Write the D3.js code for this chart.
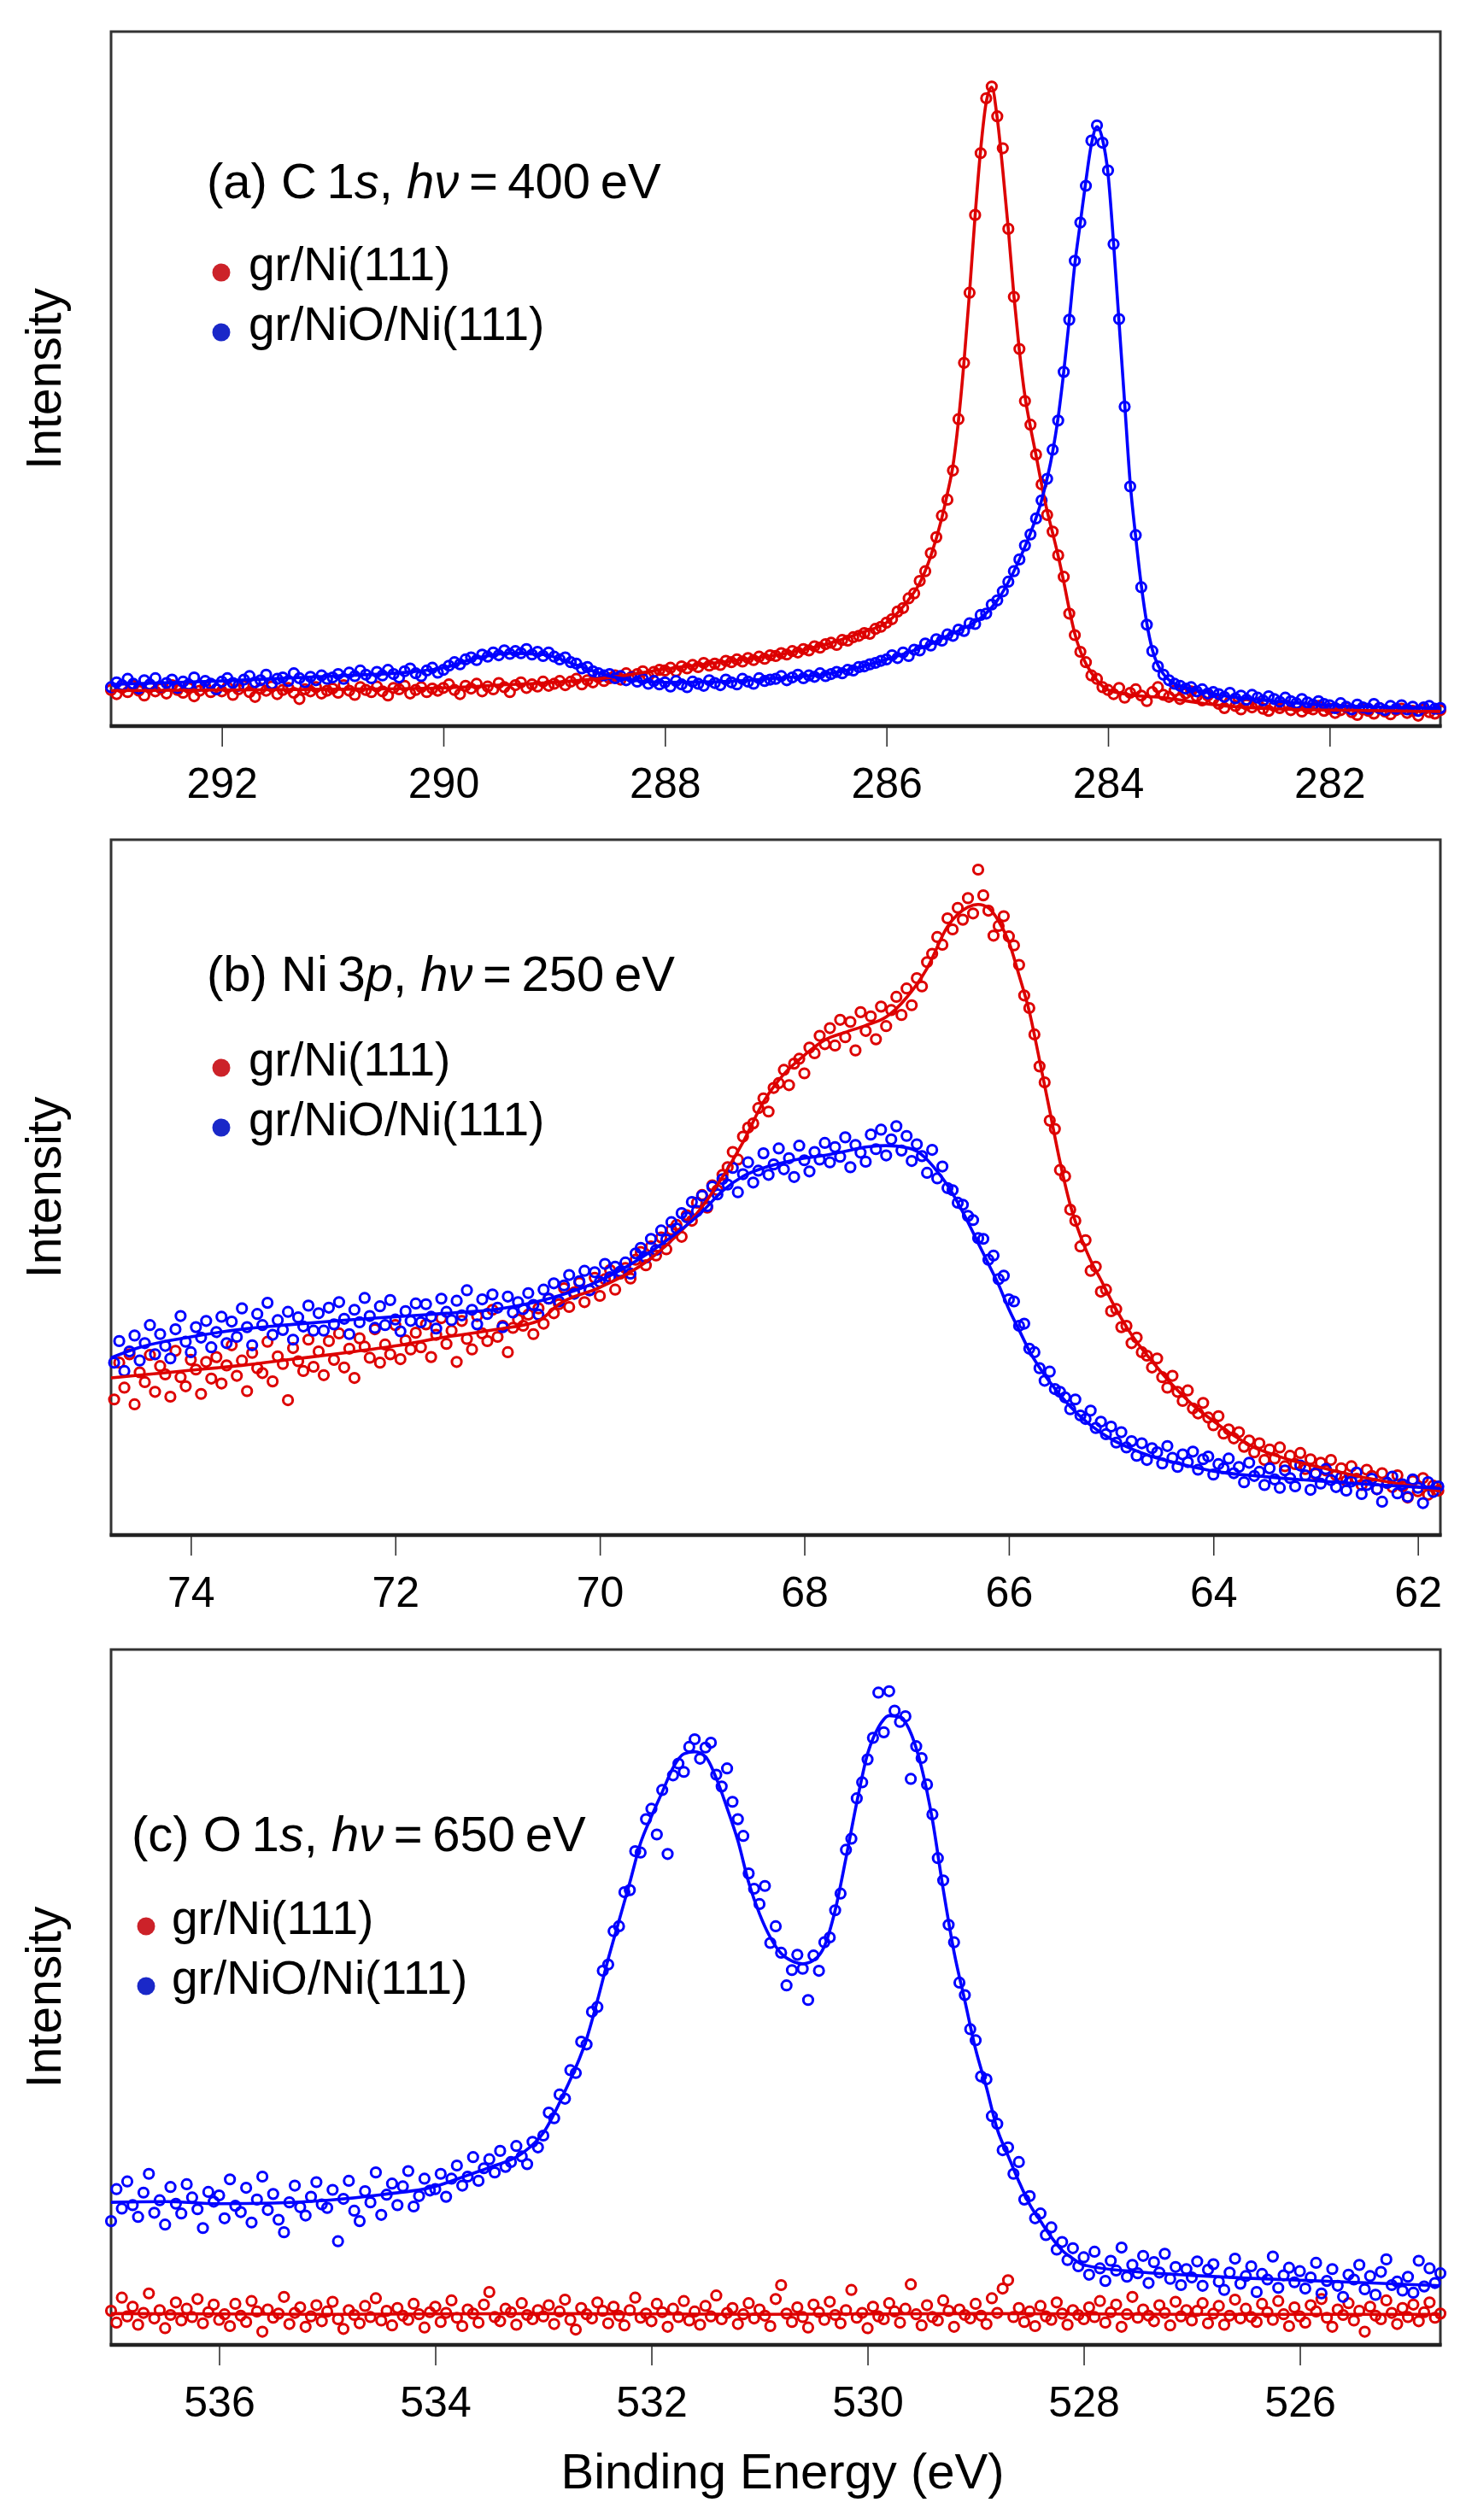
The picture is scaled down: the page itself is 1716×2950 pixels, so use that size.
<!DOCTYPE html>
<html><head><meta charset="utf-8">
<script src="https://cdn.jsdelivr.net/npm/d3@7"></script>
<style>body{margin:0;background:#fff}svg{display:block}</style>
</head><body>
<svg id="chart" width="1716" height="2950"></svg>
<script>
// ---------- Panel (a) C 1s : energy grid start / step (eV), intensities (arb. units 0-100) ----------
const aStart = 293.0, aStep = 0.05;
const aRed = [
5.2,4.6,5.5,4.9,5.8,5.1,4.4,5.6,5.0,5.4,4.7,5.9,5.2,4.8,5.5,4.3,5.1,5.7,4.9,5.3,
5.0,5.6,4.5,5.3,5.8,4.9,4.2,5.4,5.1,5.7,4.6,5.2,5.5,4.8,3.9,5.3,5.0,5.6,4.7,5.1,
5.4,4.8,5.9,5.1,4.5,5.6,5.2,4.9,5.7,5.0,4.4,5.5,5.3,5.8,4.7,5.2,5.6,4.9,5.4,5.1,
5.5,6.0,5.2,4.6,5.8,5.4,6.1,5.0,5.7,5.3,6.2,5.6,4.9,5.9,6.3,5.5,6.0,5.7,6.4,5.8,
6.1,6.5,5.9,6.4,6.8,6.0,6.6,6.3,7.0,6.5,6.9,7.3,6.7,7.6,7.1,7.5,7.9,7.2,7.8,8.1,
8.0,8.4,7.9,8.6,8.3,8.8,8.5,9.1,8.7,9.0,8.8,9.4,9.2,9.6,9.3,9.8,9.5,10.0,9.7,10.2,
10.1,10.5,10.3,10.8,10.6,11.1,10.9,11.5,11.3,11.8,12.0,11.7,12.4,12.3,12.8,13.0,13.4,13.3,14.0,14.3,
14.9,15.4,16.5,17.0,18.4,19.1,20.9,22.3,24.9,27.2,30.3,32.6,36.8,44.2,52.3,62.4,73.6,82.5,90.4,92.1,
87.8,83.2,71.6,61.8,54.3,46.8,43.4,39.1,34.8,30.4,28.0,24.6,21.5,16.2,13.1,10.7,9.2,7.3,6.8,5.6,
5.2,4.6,5.5,4.1,4.8,5.3,4.4,3.6,4.9,5.6,4.5,4.2,5.1,3.9,4.7,5.0,4.3,3.7,4.4,3.9,
3.2,2.6,3.5,2.9,2.4,3.1,2.7,3.3,2.5,2.2,2.9,2.6,3.0,2.3,2.8,2.1,2.6,2.4,2.9,2.2,
2.5,1.9,2.3,2.7,2.0,1.6,2.4,2.2,1.8,2.6,2.1,1.7,2.3,2.5,1.9,2.2,1.5,2.4,2.0,1.8,2.3];
const aBlue = [
5.6,6.3,5.9,6.8,6.1,5.4,6.6,6.0,6.9,5.7,6.2,6.7,5.5,6.4,6.0,7.0,5.8,6.5,6.1,5.3,
6.4,6.9,6.2,5.8,6.7,7.2,6.3,6.6,7.4,6.1,6.8,7.0,6.5,7.6,6.9,6.3,7.1,6.6,7.3,6.8,
7.0,7.5,6.8,7.7,7.2,8.0,7.4,6.9,7.8,7.3,8.1,7.5,7.0,7.9,8.3,7.6,7.2,8.0,8.4,7.7,
8.1,8.7,9.2,8.9,9.6,9.9,9.5,10.3,10.0,10.6,10.2,10.9,10.4,10.8,10.5,11.1,10.3,10.7,10.1,10.6,
10.0,9.6,9.9,9.2,9.0,8.3,8.5,7.9,7.6,7.3,7.5,6.9,7.2,6.6,7.0,6.4,6.8,6.1,6.5,6.0,
6.3,5.7,6.5,6.0,5.6,6.4,6.1,5.8,6.6,6.2,5.9,6.7,6.3,6.0,6.8,6.4,6.1,6.9,6.5,6.7,
6.8,7.2,6.6,7.0,7.4,6.9,7.3,7.1,7.6,7.2,7.5,7.8,7.6,8.1,8.0,8.5,8.6,8.9,9.1,9.4,
9.6,10.2,9.8,10.6,10.1,11.0,10.9,11.9,11.6,12.5,12.3,13.2,13.0,13.9,13.7,14.8,14.7,16.0,16.2,17.5,
18.1,19.4,20.8,22.3,24.0,26.0,27.6,29.9,32.5,35.6,39.8,44.0,51.0,58.5,67.0,72.5,77.8,84.3,86.5,84.0,
80.0,69.4,58.6,46.0,34.5,27.5,20.0,14.6,10.8,8.6,7.4,6.6,6.1,5.8,5.4,5.6,5.0,5.3,4.7,4.9,
4.6,4.2,4.8,4.0,4.4,3.8,4.5,4.1,3.7,4.3,3.9,3.5,4.1,3.6,3.3,3.9,3.4,3.1,3.6,3.2,
3.0,2.6,3.3,2.8,2.4,3.1,2.7,2.5,3.2,2.6,2.3,2.9,2.5,3.0,2.4,2.8,2.2,2.7,2.9,2.5,2.6];
const aRedFit = [[293,5.1],[292,5.2],[291,5.3],[290,5.5],[289.5,5.9],[289,6.3],[288.5,7.0],[288,8.2],[287.5,9.2],[287,10.2],[286.5,12.0],[286.2,13.6],[286,14.9],[285.8,18.2],[285.7,20.6],[285.6,24.5],[285.5,30.0],[285.45,33.5],[285.4,37.5],[285.35,44],[285.3,52.5],[285.25,62.5],[285.2,73.5],[285.15,83],[285.1,89.8],[285.05,92],[285.0,87.5],[284.95,80],[284.9,71.5],[284.85,62],[284.8,54],[284.75,47.5],[284.7,43],[284.65,39],[284.6,34.8],[284.55,31],[284.5,27.8],[284.45,24.5],[284.4,20.8],[284.35,16.8],[284.3,13.3],[284.25,10.8],[284.2,9],[284.1,6.6],[284,5.2],[283.8,4.5],[283.5,4.1],[283.2,3.4],[283,3.0],[282.5,2.5],[282,2.3],[281,2.1]];
const aBlueFit = [[293,6.0],[292,6.5],[291,7.2],[290.3,7.8],[290,8.4],[289.7,9.8],[289.4,10.5],[289.1,10.3],[288.8,8.8],[288.5,7.2],[288,6.3],[287.5,6.4],[287,6.9],[286.5,7.6],[286,9.6],[285.5,12.6],[285,18.1],[284.8,24],[284.7,27.8],[284.6,32.5],[284.5,39.5],[284.45,44.5],[284.4,51],[284.35,58.5],[284.3,66.5],[284.25,72.5],[284.2,78.5],[284.15,83.8],[284.1,86.3],[284.05,84.5],[284.0,79.5],[283.95,69.5],[283.9,58],[283.85,46.5],[283.8,35],[283.75,27.2],[283.7,20.3],[283.65,14.8],[283.6,11],[283.55,8.8],[283.5,7.5],[283.4,6.1],[283.2,5.2],[283,4.5],[282.5,3.6],[282,3.0],[281,2.6]];
const aTicks = [292, 290, 288, 286, 284, 282];

// ---------- Panel (b) Ni 3p ----------
const bStart = 74.75, bStep = 0.05;
const bRed = [
19.5,24.8,21.2,26.0,18.8,23.4,22.0,25.9,20.6,24.3,23.1,19.9,26.5,22.7,21.4,25.2,23.8,20.3,24.9,22.5,
25.6,21.8,24.4,27.3,22.9,25.1,20.7,26.2,24.0,23.3,27.8,22.1,25.7,24.6,19.4,26.9,25.0,23.6,28.1,24.2,
26.4,23.0,27.9,25.2,29.0,24.1,26.8,22.6,28.3,27.1,25.5,29.6,24.8,27.4,26.0,30.2,25.3,28.0,26.7,29.1,
27.0,30.3,25.6,28.8,31.2,27.5,29.4,24.9,30.8,28.2,26.7,31.5,29.0,27.9,32.4,28.5,30.1,26.3,29.8,31.0,
30.1,31.7,28.9,32.6,30.4,34.0,31.9,33.2,35.5,32.8,34.9,36.3,33.5,35.2,37.0,34.4,36.8,38.1,35.3,37.6,
38.4,36.9,39.6,40.7,38.8,41.5,40.2,42.8,41.1,43.9,44.6,42.9,46.0,45.2,47.8,48.9,47.1,50.3,49.6,51.8,
52.9,55.1,54.0,57.3,58.6,59.2,61.4,62.8,60.9,64.3,65.0,66.9,64.7,67.8,68.5,66.4,70.1,69.3,71.8,70.6,
72.9,70.4,74.1,71.6,73.8,69.7,75.2,72.5,74.6,71.3,76.0,73.2,75.5,77.4,74.8,78.6,76.2,80.1,78.9,82.4,
83.6,86.0,84.9,88.7,87.1,90.2,88.5,91.6,89.4,95.7,92.0,89.8,86.2,87.6,89.0,86.1,84.8,82.0,77.6,75.8,
72.0,67.4,65.1,59.6,58.4,52.5,51.6,46.8,45.2,41.5,42.4,38.0,38.6,35.0,35.3,32.2,32.5,29.9,30.1,27.6,
28.4,26.3,25.8,24.1,25.4,22.7,21.2,22.9,20.6,19.3,20.8,18.2,17.5,19.0,16.9,15.8,17.1,14.6,15.2,13.9,
14.8,12.7,13.6,11.9,13.2,10.8,12.3,11.0,12.6,9.9,11.4,10.2,11.8,9.5,10.9,8.8,10.4,9.3,10.8,8.6,
9.6,7.8,9.9,8.1,7.2,9.4,8.5,6.6,8.9,7.5,6.9,8.6,7.0,5.4,7.8,6.3,8.2,5.8,7.1,6.4];
const bBlue = [
24.8,27.9,23.6,26.4,28.7,25.1,27.6,30.2,26.0,28.9,27.2,25.4,29.6,31.5,27.8,26.3,29.9,28.4,30.8,27.0,
29.2,31.4,27.6,30.7,28.5,32.6,29.9,27.3,31.8,30.2,33.4,28.8,30.9,29.5,32.1,28.1,31.3,30.0,33.0,29.4,
31.9,29.4,32.7,30.3,33.5,31.1,28.9,32.4,30.6,34.1,31.5,29.8,32.9,30.2,33.8,31.0,29.3,32.2,30.8,33.3,
30.6,33.2,31.4,29.7,34.0,32.1,30.9,33.7,31.6,35.2,32.4,30.3,33.9,31.8,34.6,32.7,29.9,34.3,32.0,33.5,
32.5,34.8,33.1,31.7,35.3,34.0,36.2,33.6,35.9,37.4,34.7,36.5,38.0,35.2,37.8,36.4,39.0,37.1,38.6,37.9,
39.2,37.6,40.5,41.3,39.9,42.6,41.0,43.8,42.5,45.0,44.1,46.3,45.7,47.9,46.6,48.8,47.3,50.1,49.0,51.2,
50.4,52.8,49.3,51.9,53.6,50.7,52.4,54.9,51.8,53.3,55.6,52.6,54.2,51.5,56.0,53.9,52.3,55.1,54.0,56.4,
53.6,55.8,54.4,57.2,52.9,56.1,55.0,53.7,57.6,55.5,58.3,54.6,56.9,58.8,55.3,57.4,53.8,56.2,54.5,52.1,
55.4,51.3,53.0,49.9,49.6,47.8,47.5,45.9,45.3,42.7,42.6,39.6,40.2,36.8,37.3,33.9,33.6,30.1,30.4,26.8,
26.3,24.0,22.2,23.5,21.0,20.6,19.8,18.1,19.5,17.2,16.7,17.9,15.4,16.3,14.5,15.6,13.3,14.8,12.6,13.5,
11.4,13.2,10.8,12.5,11.9,10.3,12.8,11.1,9.8,11.6,10.5,12.0,9.4,10.9,11.3,8.7,10.2,9.6,11.0,8.9,
9.8,7.6,10.4,8.5,9.1,7.2,9.6,8.0,6.8,9.3,8.2,7.0,10.0,8.6,6.5,8.9,7.4,9.5,7.9,6.9,
8.3,6.4,7.7,9.0,5.9,7.2,8.1,6.6,4.8,7.5,8.4,6.0,7.3,5.5,8.0,6.8,4.6,7.6,6.2,7.0];
const bRedFit = [[74.78,22.6],[74.5,23.0],[74,23.7],[73.5,24.4],[73,25.3],[72.5,26.2],[72,27.2],[71.5,28.5],[71,29.6],[70.6,30.8],[70.4,33.2],[70,35.6],[69.5,39.8],[69,47.2],[68.8,51.5],[68.6,56.5],[68.4,62.3],[68.2,66.3],[68,69],[67.8,71.2],[67.6,72.3],[67.4,73.3],[67.2,74.5],[67,77.3],[66.8,81.5],[66.6,87.5],[66.4,90.3],[66.3,90.7],[66.2,90.2],[66.1,88.3],[66,85.3],[65.9,80.5],[65.8,75.3],[65.7,68.3],[65.6,61],[65.5,53.7],[65.4,47.5],[65.3,43],[65.2,39.5],[65.1,36.7],[65,33.8],[64.8,28.8],[64.6,25],[64.4,21.6],[64.2,18.7],[64,16.4],[63.8,14.3],[63.6,12.6],[63.4,11.5],[63.2,10.6],[63,9.9],[62.5,8.2],[62,6.9],[61.78,6.3]];
const bBlueFit = [[74.78,25.5],[74.5,27],[74,28.5],[73.5,29.6],[73,30.3],[72.5,30.9],[72,31.4],[71.5,31.9],[71,32.5],[70.5,34],[70,36.6],[69.5,40.8],[69,46.5],[68.8,49.5],[68.6,51.6],[68.4,52.8],[68.2,53.6],[68,54.2],[67.8,54.6],[67.6,55.2],[67.4,55.8],[67.2,56],[67,55.7],[66.9,55.2],[66.8,54],[66.7,52.3],[66.6,50.3],[66.5,47.8],[66.4,45],[66.3,42],[66.2,39],[66.1,36],[66,32.5],[65.9,29.5],[65.8,26.5],[65.6,22],[65.4,18.5],[65.2,15.8],[65,13.8],[64.8,12.4],[64.6,11.3],[64.4,10.5],[64.2,9.8],[64,9.2],[63.5,8.4],[63,7.8],[62.5,7.3],[62,6.9],[61.78,6.7]];
const bTicks = [74, 72, 70, 68, 66, 64, 62];

// ---------- Panel (c) O 1s ----------
const cStart = 537.0, cStep = 0.05;
const cRed = [
4.9,3.2,6.8,4.1,5.5,2.9,4.6,7.4,3.8,5.0,2.4,4.3,6.1,3.5,5.2,4.0,6.6,3.1,4.7,5.8,
3.6,4.4,2.7,5.9,4.2,3.3,6.3,4.8,1.9,5.1,3.9,4.5,6.9,3.0,4.6,5.4,2.6,4.1,5.7,3.4,
4.8,6.2,3.7,2.3,5.0,4.3,3.1,5.6,4.0,6.7,3.5,4.9,2.8,5.3,4.2,3.6,5.9,4.4,2.5,4.7,
5.5,3.3,4.6,6.4,3.9,2.7,5.1,4.5,3.2,5.8,7.6,4.0,3.4,5.2,4.7,2.9,6.0,4.3,3.7,5.0,
4.1,5.7,3.0,4.8,6.5,3.6,2.2,5.3,4.4,3.8,6.1,4.9,3.1,5.5,4.2,2.8,5.0,6.8,3.9,4.5,
3.4,5.9,4.7,2.6,5.2,4.0,6.3,3.5,4.8,2.9,5.6,4.1,7.1,3.7,4.6,5.3,3.0,4.4,6.0,3.8,
5.1,4.2,2.7,6.6,8.6,4.5,3.3,5.4,4.0,2.5,5.8,4.7,3.6,6.2,4.3,3.1,5.0,7.9,3.9,4.6,
2.4,5.5,4.1,3.7,6.0,4.8,3.2,5.2,8.7,4.4,2.8,5.7,4.0,3.5,6.4,4.9,2.6,5.1,4.3,3.8,
5.9,4.2,3.0,6.7,4.6,8.1,9.3,4.0,5.3,3.3,4.8,2.7,5.6,4.1,3.6,6.1,4.5,2.9,5.0,4.3,
3.7,5.4,4.0,6.3,3.2,4.7,5.8,2.6,4.4,6.9,3.9,5.1,4.2,3.4,5.7,4.6,2.8,6.2,4.1,5.0,
3.5,4.9,6.0,3.1,4.5,5.6,2.9,4.2,6.5,3.8,5.2,4.0,3.3,5.9,4.7,3.6,6.3,4.4,2.7,5.4,
4.1,3.2,5.7,4.8,6.6,3.9,2.6,5.1,4.3,6.0,3.5,4.9,1.9,5.5,4.2,3.7,6.4,4.6,3.0,5.3,
4.0,5.8,3.4,4.7,6.1,3.9,4.5];
const cBlue = [
17.8,22.4,19.6,23.5,20.1,18.4,21.9,24.6,19.0,20.8,17.3,22.7,20.3,18.9,23.1,21.2,19.5,16.8,22.0,20.6,
21.5,18.2,23.8,20.0,19.1,22.6,17.6,20.9,24.2,19.4,21.7,18.0,16.2,20.5,22.9,19.8,18.6,21.3,23.4,20.2,
19.7,22.3,14.9,21.0,23.6,19.3,17.8,22.1,20.5,24.8,18.7,21.6,23.2,20.1,22.8,25.0,19.9,21.4,23.9,22.2,
22.4,24.6,21.3,23.9,25.8,22.9,24.2,27.0,23.6,25.4,26.7,24.8,27.9,25.6,26.3,28.6,27.1,26.0,29.2,28.4,
30.1,33.4,32.6,36.0,35.4,39.5,39.1,43.6,43.2,47.9,48.6,53.8,54.7,59.5,60.2,65.1,65.4,71.0,70.8,75.6,
77.1,73.4,79.8,70.6,81.9,83.6,82.4,86.0,87.1,84.3,85.9,86.6,82.0,80.3,82.9,78.1,75.6,73.2,67.8,65.6,
63.4,66.0,57.8,60.2,56.4,51.7,53.9,56.1,54.1,49.6,56.0,53.8,57.9,58.6,62.5,64.9,71.2,72.8,78.6,80.9,
84.2,87.3,93.8,88.1,94.0,91.2,89.6,90.4,81.4,86.1,84.4,80.6,76.3,70.0,66.8,60.4,57.9,52.1,50.3,45.4,
43.8,38.6,38.2,32.9,31.8,28.0,28.4,24.6,26.3,20.9,21.4,18.2,18.9,15.8,16.9,13.7,14.8,12.2,13.9,11.3,
12.6,10.1,13.4,11.0,9.2,12.1,10.7,14.0,9.8,11.5,10.3,12.8,8.9,11.9,10.4,13.1,9.5,11.2,8.6,10.9,
9.7,12.0,8.5,10.8,11.6,9.1,7.9,10.4,12.4,8.8,9.9,11.3,7.6,10.2,9.4,12.7,8.2,10.0,11.1,9.0,
10.6,8.1,9.7,11.8,7.4,9.2,10.9,8.5,6.9,10.1,9.4,11.5,8.0,9.9,7.2,10.5,12.3,8.6,9.1,7.8,
9.8,7.5,12.1,8.4,11.0,8.9,10.3];
const cRedFit = [[537,4.5],[535,4.4],[533,4.5],[531,4.4],[529,4.5],[527,4.4],[524.7,4.4]];
const cBlueFit = [[537,20.5],[536.5,20.6],[536,20.3],[535.5,20.4],[535,20.8],[534.5,21.6],[534,22.8],[533.7,24.4],[533.5,25.5],[533.2,27.5],[533,30.5],[532.8,36.5],[532.6,44],[532.5,49.5],[532.4,55.5],[532.3,61],[532.2,66.5],[532.1,72.2],[532,76],[531.9,79.5],[531.8,83],[531.7,85],[531.6,85.3],[531.5,84.6],[531.4,81.5],[531.3,77.2],[531.2,72.5],[531.1,66.5],[531,62],[530.9,58.6],[530.8,56.3],[530.7,55.2],[530.6,54.8],[530.5,55.3],[530.4,57.3],[530.3,62.5],[530.2,70],[530.1,78],[530,85],[529.9,88.8],[529.8,90.5],[529.7,90.3],[529.6,88],[529.5,83],[529.4,75.5],[529.3,65.5],[529.2,56.5],[529.1,49.5],[529,42.5],[528.9,37],[528.8,31],[528.7,27.2],[528.6,23.5],[528.5,20.2],[528.4,17.8],[528.3,15.5],[528.2,13.6],[528.1,12.4],[528,11.5],[527.5,10.5],[527,10],[526.5,9.6],[526,9.3],[525.5,9],[525,8.7],[524.7,8.5]];
const cTicks = [536, 534, 532, 530, 528, 526];

const seriesNames = ["gr/Ni(111)", "gr/NiO/Ni(111)"];
const yLabel = "Intensity";
const xLabel = "Binding Energy (eV)";

// ---------- drawing ----------
const RED = "#dd0000", BLUE = "#0000ff";
const LEG_RED = "#cc2229", LEG_BLUE = "#1a28c8";
const FONT = "'Liberation Sans', Arial, Helvetica, sans-serif";
const L = 130, R = 1686;

const svg = d3.select("#chart");
svg.append("rect").attr("width", 1716).attr("height", 2950).attr("fill", "#fff");

const panels = [
  { top: 37, bottom: 850, domain: [293.0, 281.0], ticks: aTicks, start: aStart, step: aStep,
    red: aRed, blue: aBlue, redFit: aRedFit, blueFit: aBlueFit,
    title: [["(a) C\u2009", false], ["1", false], ["s", true], [", ", false], ["h\u03BD", true], ["\u2009=\u2009400\u2009eV", false]],
    tx: 242, ty: 232, lx: 259, ltx: 291, ly: [328, 398] },
  { top: 983, bottom: 1797, domain: [74.78, 61.78], ticks: bTicks, start: bStart, step: bStep,
    red: bRed, blue: bBlue, redFit: bRedFit, blueFit: bBlueFit,
    title: [["(b) Ni\u2009", false], ["3", false], ["p", true], [", ", false], ["h\u03BD", true], ["\u2009=\u2009250\u2009eV", false]],
    tx: 242, ty: 1160, lx: 259, ltx: 291, ly: [1259, 1329] },
  { top: 1931, bottom: 2745, domain: [537.0, 524.7], ticks: cTicks, start: cStart, step: cStep,
    red: cRed, blue: cBlue, redFit: cRedFit, blueFit: cBlueFit,
    title: [["(c) O\u2009", false], ["1", false], ["s", true], [", ", false], ["h\u03BD", true], ["\u2009=\u2009650\u2009eV", false]],
    tx: 154, ty: 2167, lx: 171, ltx: 201, ly: [2264, 2334] }
];

panels.forEach(p => {
  const x = d3.scaleLinear().domain(p.domain).range([L, R]);
  const y = d3.scaleLinear().domain([0, 100]).range([p.bottom, p.top]);
  const g = svg.append("g");

  // frame
  g.append("rect").attr("x", L).attr("y", p.top).attr("width", R - L).attr("height", p.bottom - p.top)
    .attr("fill", "none").attr("stroke", "#333").attr("stroke-width", 3);

  // axis
  const ax = g.append("g").attr("transform", `translate(0,${p.bottom})`)
    .call(d3.axisBottom(x).tickValues(p.ticks).tickSize(24).tickPadding(24).tickFormat(d3.format("d")));
  ax.select(".domain").remove();
  ax.selectAll(".tick line").attr("stroke", "#333").attr("stroke-width", 1.6);
  ax.selectAll(".tick text").attr("font-family", FONT).attr("font-size", 50).attr("fill", "#000");
  g.append("line").attr("x1", L - 1.5).attr("x2", R + 1.5).attr("y1", p.bottom).attr("y2", p.bottom)
    .attr("stroke", "#222").attr("stroke-width", 4.5);

  const pts = (arr) => arr.map((v, i) => [p.start - i * p.step, v]);
  const line = d3.line().x(d => x(d[0])).y(d => y(d[1])).curve(d3.curveMonotoneX);

  const drawPts = (arr, col) => g.append("g").selectAll("circle").data(pts(arr)).join("circle")
    .attr("cx", d => x(d[0])).attr("cy", d => y(d[1])).attr("r", 5.6)
    .attr("fill", "none").attr("stroke", col).attr("stroke-width", 3);
  drawPts(p.red, RED);
  drawPts(p.blue, BLUE);
  g.append("path").datum(p.redFit).attr("d", line).attr("fill", "none").attr("stroke", RED).attr("stroke-width", 3.6);
  g.append("path").datum(p.blueFit).attr("d", line).attr("fill", "none").attr("stroke", BLUE).attr("stroke-width", 3.6);

  // title
  const t = g.append("text").attr("x", p.tx).attr("y", p.ty).attr("font-family", FONT).attr("font-size", 58).attr("fill", "#000");
  p.title.forEach(([s, it]) => t.append("tspan").text(s).attr("font-style", it ? "italic" : "normal"));

  // legend
  [LEG_RED, LEG_BLUE].forEach((c, i) => {
    g.append("circle").attr("cx", p.lx).attr("cy", p.ly[i] - 9).attr("r", 10.5).attr("fill", c);
    g.append("text").attr("x", p.ltx).attr("y", p.ly[i]).attr("font-family", FONT).attr("font-size", 55)
      .attr("fill", "#000").text(seriesNames[i]);
  });

  // y label
  g.append("text").attr("transform", `translate(71,${(p.top + p.bottom) / 2}) rotate(-90)`)
    .attr("text-anchor", "middle").attr("font-family", FONT).attr("font-size", 57).attr("fill", "#000").text(yLabel);
});

svg.append("text").attr("x", 916).attr("y", 2913).attr("text-anchor", "middle")
  .attr("font-family", FONT).attr("font-size", 58).attr("fill", "#000").text(xLabel);
</script>
</body></html>
